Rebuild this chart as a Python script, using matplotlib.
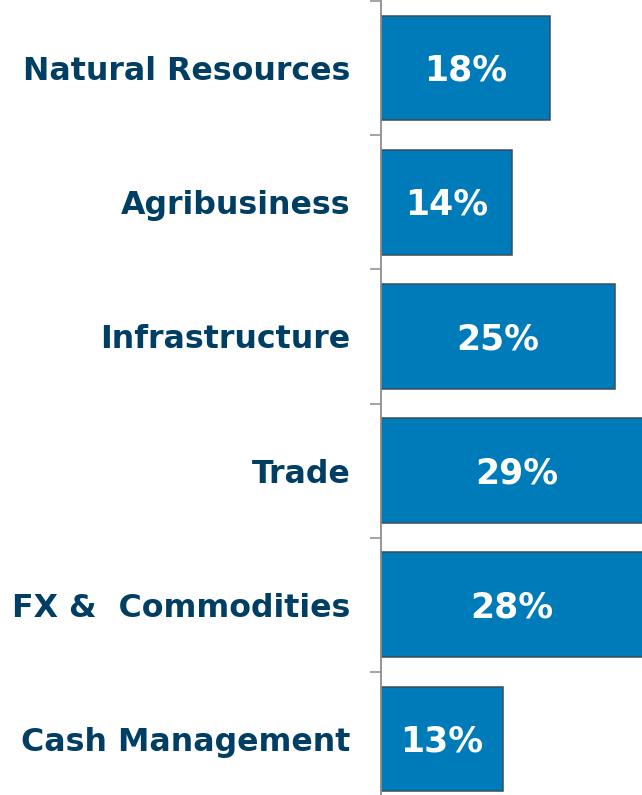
import numpy as np
import matplotlib.pyplot as plt

# sectors, top to bottom
sectors = ["Natural Resources", "Agribusiness", "Infrastructure", "Trade",
           "FX &  Commodities", "Cash Management"]
shares = [18, 14, 25, 29, 28, 13]

bar_color = "#007BBA"
edge_color = "#3D4B5C"
label_color = "#003F63"

fig = plt.figure(figsize=(6.42, 7.95), dpi=100)
# axes runs a bit past the bottom edge and the right side clips the longest bars
ax = fig.add_axes([381 / 642, -11 / 795, 1 - 381 / 642, 805 / 795])

y = np.arange(len(sectors))
ax.barh(y, shares, height=0.78, color=bar_color, edgecolor=edge_color,
        linewidth=1.1, zorder=2)

for yi, v in zip(y, shares):
    ax.text(v / 2, yi + 0.02, f"{v}%", ha="center", va="center", color="white",
            fontsize=25, fontweight="bold", family="DejaVu Sans", zorder=3)

ax.set_xlim(0, 27.85)
ax.set_ylim(len(sectors) - 0.5, -0.5)

ax.set_yticks(y)
ax.set_yticklabels(sectors, fontsize=22.8, fontweight="bold", color=label_color)
ax.tick_params(axis="y", which="major", length=0, pad=22)
ax.set_yticks(np.arange(len(sectors) + 1) - 0.5, minor=True)
ax.tick_params(axis="y", which="minor", length=8, width=1.1, color="#8C8C8C")
ax.set_xticks([])

for side in ["top", "right", "bottom"]:
    ax.spines[side].set_visible(False)
ax.spines["left"].set_color("#8C8C8C")
ax.spines["left"].set_linewidth(1.3)

fig.savefig("out.png", dpi=100)
